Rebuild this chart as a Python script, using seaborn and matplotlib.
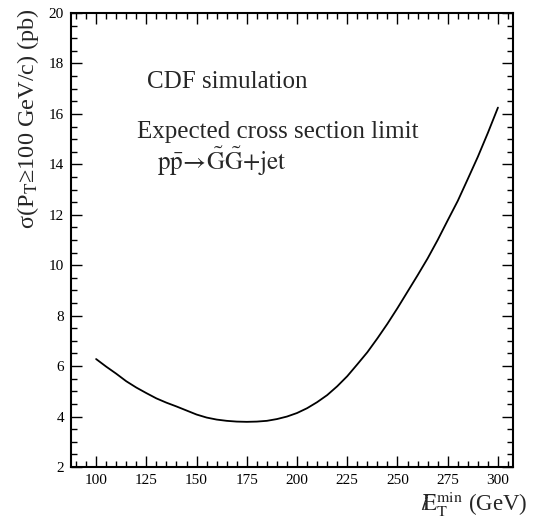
import numpy as np
import pandas as pd
import seaborn as sns
import matplotlib.pyplot as plt
from matplotlib.ticker import MultipleLocator

# values
et_min = [100, 105, 110, 115, 120, 125, 130, 135, 140, 145, 150, 155, 160, 165,
          170, 175, 180, 185, 190, 195, 200, 205, 210, 215, 220, 225, 230, 235,
          240, 245, 250, 255, 260, 265, 270, 275, 280, 285, 290, 295, 300]
sigma = [6.28, 5.98, 5.70, 5.40, 5.15, 4.93, 4.72, 4.55, 4.40, 4.24, 4.08, 3.96,
         3.88, 3.83, 3.80, 3.79, 3.80, 3.83, 3.90, 4.00, 4.14, 4.33, 4.57, 4.85,
         5.20, 5.60, 6.07, 6.55, 7.10, 7.68, 8.30, 8.95, 9.60, 10.27, 11.00,
         11.78, 12.55, 13.42, 14.30, 15.25, 16.25]

x_ticks = [100, 125, 150, 175, 200, 225, 250, 275, 300]
y_ticks = [2, 4, 6, 8, 10, 12, 14, 16, 18, 20]

sns.set_theme(style="ticks")
plt.rcParams["font.family"] = ["Liberation Serif", "DejaVu Serif"]
plt.rcParams["mathtext.fontset"] = "stix"

df = pd.DataFrame({"Et": et_min, "sigma": sigma})

fig = plt.figure(figsize=(5.33, 5.25), dpi=100)
ax = fig.add_axes([0.1332, 0.1105, 0.8293, 0.8647])

sns.lineplot(data=df, x="Et", y="sigma", color="black", linewidth=1.3, ax=ax)

ax.set_xlim(87.5, 307.5)
ax.set_ylim(2, 20)
ax.set_xticks(x_ticks)
ax.set_yticks(y_ticks)
ax.xaxis.set_minor_locator(MultipleLocator(5))
ax.yaxis.set_minor_locator(MultipleLocator(0.5))
ax.tick_params(which="both", direction="in", top=True, right=True,
               labelsize=11, colors="black", width=1)
ax.tick_params(which="major", length=8, pad=5)
ax.tick_params(which="minor", length=4)
for s in ax.spines.values():
    s.set_linewidth(1.5)
    s.set_color("black")

ax.set_xlabel("")
ax.set_ylabel("")
fig.text(0.989, 0.026, r"$\mathrm{/\!\!E}_{\rm T}^{\rm min}$ (GeV)",
         ha="right", va="baseline", fontsize=16.5)
fig.text(0.0525, 0.985, r"σ(P$_{\rm T}$≥100 GeV/c) (pb)", rotation=90,
         ha="center", va="top", fontsize=17.5)

ax.text(0.171, 0.835, "CDF simulation", transform=ax.transAxes, fontsize=18, va="baseline")
ax.text(0.149, 0.725, "Expected cross section limit", transform=ax.transAxes, fontsize=18, va="baseline")
ax.text(0.194, 0.654, r"$\mathrm{p\bar{p}\!\rightarrow\!\tilde{G}\tilde{G}{+}jet}$",
        transform=ax.transAxes, fontsize=18, va="baseline")

fig.savefig("out.png", dpi=100)
